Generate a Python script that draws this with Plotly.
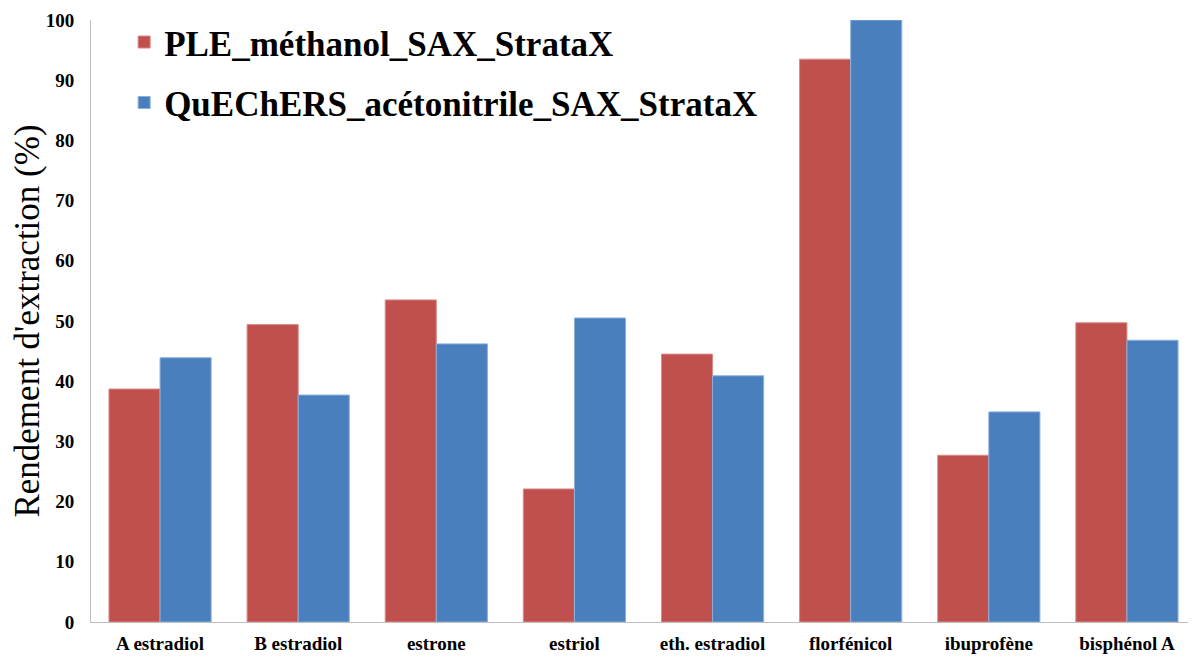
import plotly.graph_objects as go

# composés analysés
composes = ["A estradiol", "B estradiol", "estrone", "estriol",
            "eth. estradiol", "florfénicol", "ibuprofène", "bisphénol A"]

# rendements d'extraction (%)
ple_methanol = [38.7, 49.4, 53.5, 22.1, 44.5, 93.5, 27.7, 49.7]
quechers_acetonitrile = [43.9, 37.7, 46.2, 50.5, 40.9, 100.0, 34.9, 46.8]

police = "Liberation Serif, Times New Roman, serif"

fig = go.Figure()
fig.add_trace(go.Bar(
    x=composes, y=ple_methanol, name="PLE_méthanol_SAX_StrataX",
    legendgroup="a",
    marker=dict(color="#C0504D", line=dict(color="#D98A88", width=1)),
))
fig.add_trace(go.Bar(
    x=composes, y=quechers_acetonitrile, name="QuEChERS_acétonitrile_SAX_StrataX",
    legendgroup="b",
    marker=dict(color="#4A7FBE", line=dict(color="#8DB0DA", width=1)),
))

# la page a une marge de 8 px : on réduit la figure d'autant
fig.update_layout(
    width=1188, height=652,
    margin=dict(l=83, r=0, t=12, b=38),
    barmode="group",
    bargap=0.26, bargroupgap=0,
    plot_bgcolor="white", paper_bgcolor="white",
    font=dict(family=police, color="black"),
    legend=dict(
        x=0.030, y=1.012, xanchor="left", yanchor="top",
        font=dict(family=police, size=35, color="black", weight="bold"),
        tracegroupgap=12, itemwidth=30, bgcolor="rgba(0,0,0,0)",
    ),
    xaxis=dict(
        showline=True, linecolor="#BFBFBF", linewidth=1,
        showgrid=False, ticks="",
        tickfont=dict(family=police, size=19, weight="bold"),
        ticklabelstandoff=4,
    ),
    yaxis=dict(
        range=[0, 100], dtick=10,
        showline=True, linecolor="#BFBFBF", linewidth=1,
        showgrid=False, ticks="", zeroline=False,
        tickfont=dict(family=police, size=19, weight="bold"),
        ticklabelstandoff=12,
        title=dict(text="Rendement d'extraction (%)", standoff=2,
                   font=dict(family=police, size=35)),
    ),
)

fig.write_html("out.html")
